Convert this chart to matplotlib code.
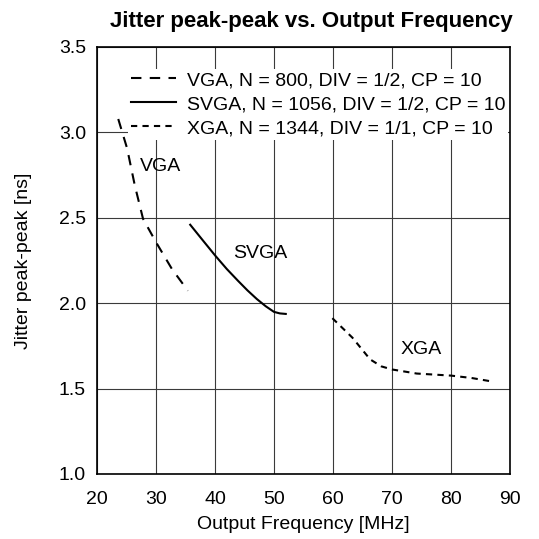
import matplotlib
matplotlib.use("Agg")
import matplotlib.pyplot as plt

plt.rcParams['font.family'] = ['Liberation Sans', 'DejaVu Sans']

vga_x = [23.6, 25.1, 26.4, 27.8, 30.0, 32.7, 35.4]
vga_y = [3.078, 2.906, 2.69, 2.494, 2.357, 2.20, 2.073]
svga_x = [35.8, 38.0, 40.05, 42.0, 43.9, 45.5, 47.1, 48.6, 50.0, 51.0, 52.0]
svga_y = [2.459, 2.365, 2.278, 2.20, 2.131, 2.075, 2.024, 1.982, 1.949, 1.94, 1.937]
xga_x = [59.9, 63.3, 66.3, 68.2, 70.0, 74.2, 80.0, 83.5, 86.7]
xga_y = [1.912, 1.798, 1.671, 1.63, 1.612, 1.588, 1.576, 1.562, 1.543]

legend_labels = ["VGA, N = 800, DIV = 1/2, CP = 10",
                 "SVGA, N = 1056, DIV = 1/2, CP = 10",
                 "XGA, N = 1344, DIV = 1/1, CP = 10"]
curve_labels = ["VGA", "SVGA", "XGA"]
xticks = [20, 30, 40, 50, 60, 70, 80, 90]
yticks = [1.0, 1.5, 2.0, 2.5, 3.0, 3.5]

FS = 14

fig = plt.figure(figsize=(5.39, 5.39), dpi=100)
ax = fig.add_axes([0.18, 0.1206, 0.766, 0.7924])

ax.plot(vga_x, vga_y, color='black', lw=1.5, dashes=(5, 4), label=legend_labels[0])
ax.plot(svga_x, svga_y, color='black', lw=1.5, label=legend_labels[1])
ax.plot(xga_x, xga_y, color='black', lw=1.5, dashes=(3, 2.5), label=legend_labels[2])

ax.text(30.8, 2.80, curve_labels[0], fontsize=FS, ha='center', va='center')
ax.text(47.6, 2.29, curve_labels[1], fontsize=FS, ha='center', va='center')
ax.text(75.0, 1.73, curve_labels[2], fontsize=FS, ha='center', va='center')

ax.set_xlim(20, 90)
ax.set_ylim(1.0, 3.5)
ax.set_xticks(xticks)
ax.set_yticks(yticks)
ax.set_yticklabels([f"{v:.1f}" for v in yticks])
ax.tick_params(axis='x', length=0, labelsize=FS, pad=12)
ax.tick_params(axis='y', length=0, labelsize=FS, pad=8)
ax.grid(True, color='#3a3a3a', lw=0.8)
ax.set_axisbelow(True)
for s in ax.spines.values():
    s.set_linewidth(1.2)

ax.set_xlabel("Output Frequency [MHz]", fontsize=FS, labelpad=6)
ax.set_ylabel("Jitter peak-peak [ns]", fontsize=FS, labelpad=19)
ax.set_title("Jitter peak-peak vs. Output Frequency", fontsize=16, fontweight='bold',
             pad=14, x=0.52)

leg = ax.legend(loc='upper right', bbox_to_anchor=(0.996, 0.949), fontsize=FS, frameon=True,
                framealpha=1, edgecolor='none', facecolor='white', handlelength=2.3,
                handletextpad=0.57, labelspacing=0.33, borderpad=0.15, borderaxespad=0,
                fancybox=False)

fig.savefig("out.png", dpi=100)
